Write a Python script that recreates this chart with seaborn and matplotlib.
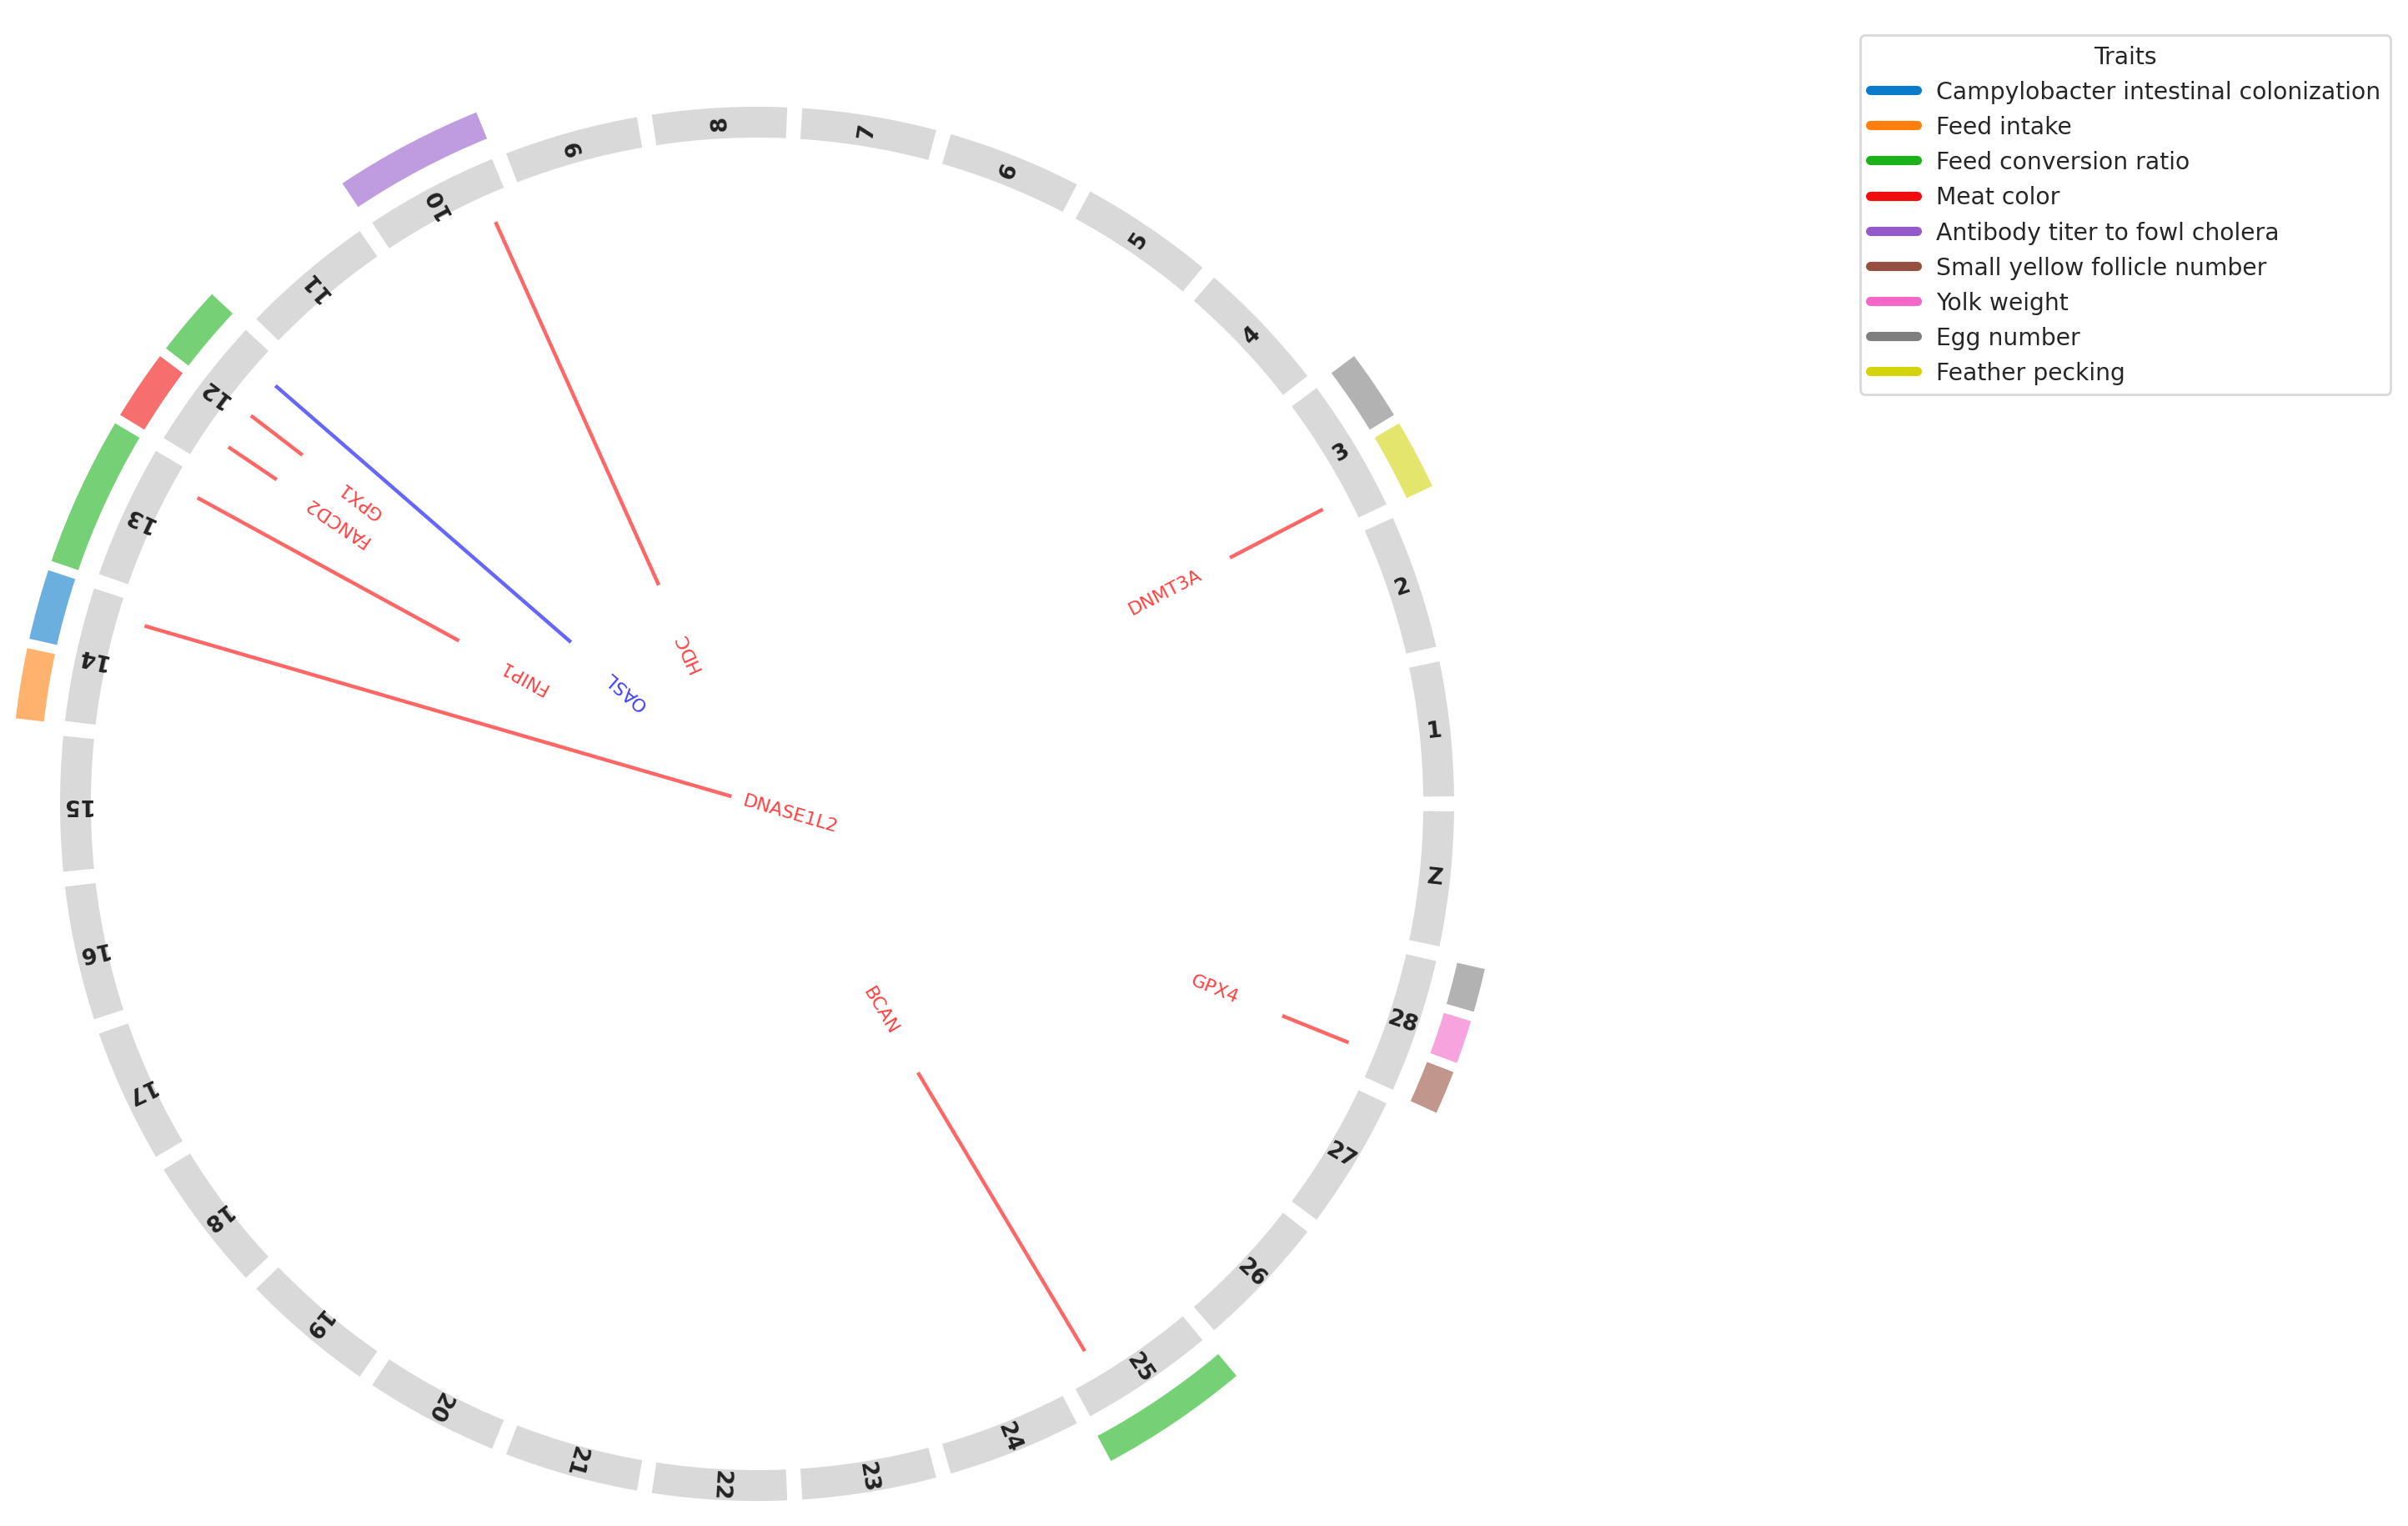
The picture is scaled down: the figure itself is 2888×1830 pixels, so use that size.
import numpy as np
import colorsys
import matplotlib
matplotlib.use("Agg")
import matplotlib.pyplot as plt
import seaborn as sns
from matplotlib.lines import Line2D
from collections import defaultdict

sns.set_theme(style="white")
plt.rcParams['font.family'] = ['DejaVu Sans']

# ---------------- data ----------------
chromosomes = [str(i) for i in range(1, 29)] + ['Z']

traits = ['Campylobacter intestinal colonization', 'Feed intake', 'Feed conversion ratio',
          'Meat color', 'Antibody titer to fowl cholera', 'Small yellow follicle number',
          'Yolk weight', 'Egg number', 'Feather pecking']

# QTL blocks: chromosome and trait (listed in angular order within a chromosome)
qtl_chrom = ['3', '3', '10', '12', '12', '13', '14', '14', '25', '28', '28', '28']
qtl_trait = ['Feather pecking', 'Egg number', 'Antibody titer to fowl cholera',
             'Feed conversion ratio', 'Meat color', 'Feed conversion ratio',
             'Campylobacter intestinal colonization', 'Feed intake',
             'Feed conversion ratio', 'Small yellow follicle number', 'Yolk weight',
             'Egg number']

# candidate genes: chromosome, relative position within chromosome, link depth, colour
genes = ['DNMT3A', 'HDC', 'OASL', 'GPX1', 'FANCD2', 'FNIP1', 'DNASE1L2', 'BCAN', 'GPX4']
gene_chrom = ['3', '10', '12', '12', '12', '13', '14', '25', '28']
gene_pos = [0.215, 0.20, 0.20, 0.48, 0.76, 0.19, 0.195, 0.24, 0.23]
gene_depth = [0.80, 0.36, 0.37, 0.86, 0.87, 0.51, 0.04, 0.47, 0.85]
gene_color = ['red', 'red', 'blue', 'red', 'red', 'red', 'red', 'red', 'red']

# ---------------- layout ----------------
W, H, DPI = 2888, 1831, 200
fig = plt.figure(figsize=(W / DPI, H / DPI), dpi=DPI)
cx, cy = 908, 965          # circle centre in pixels (from top-left)
RMAX = 960
ax = fig.add_axes([(cx - RMAX) / W, (H - cy - RMAX) / H, 2 * RMAX / W, 2 * RMAX / H],
                  projection='polar')
ax.set_theta_zero_location('E')
ax.set_theta_direction(1)
ax.set_ylim(0, RMAX)
ax.axis('off')


def boost(c, f=1.3):
    h, l, s = colorsys.rgb_to_hls(*c)
    return colorsys.hls_to_rgb(h, l, min(1.0, s * f))


palette = [boost(c) for c in sns.color_palette('tab10', 10)]
trait_color = {t: palette[i] for i, t in enumerate(traits)}

n = len(chromosomes)
slot = 2 * np.pi / n
chrom_idx = {c: i for i, c in enumerate(chromosomes)}
centers = (np.arange(n) + 0.5) * slot

R_IN, R_W = 799, 37
ax.bar(centers, R_W, width=slot * 0.9, bottom=R_IN, color='#d9d9d9',
       edgecolor='none', align='center')
for th, name in zip(centers, chromosomes):
    ax.text(th, R_IN + R_W / 2, name, rotation=np.degrees(th), rotation_mode='anchor',
            ha='center', va='center', fontsize=9.5, fontweight='bold', color='#222222')

# QTL blocks
Q_IN, Q_W = 861, 34
gap = np.radians(0.75)
per_chrom = defaultdict(list)
for c, t in zip(qtl_chrom, qtl_trait):
    per_chrom[c].append(t)
for c, tl in per_chrom.items():
    k = len(tl)
    sub = slot / k
    start = chrom_idx[c] * slot
    for j, t in enumerate(tl):
        ax.bar(start + (j + 0.5) * sub, Q_W, width=sub - gap, bottom=Q_IN,
               color=trait_color[t], alpha=0.6, edgecolor='none', align='center')

# gene links
L_OUT = 765
LABEL_OFF = 87
for g, c, p, d, col in zip(genes, gene_chrom, gene_pos, gene_depth, gene_color):
    th = (chrom_idx[c] + p) * slot
    r_end = d * R_IN
    ax.plot([th, th], [L_OUT, r_end], color=col, alpha=0.6, lw=1.6,
            solid_capstyle='butt')
    rl = r_end - LABEL_OFF
    rot = np.degrees(th)
    tl = th
    if rl < 0:
        rl = -rl * 0.75
        tl = th + np.pi
        rot = rot + 180
    ax.text(tl, rl, g, rotation=rot, rotation_mode='anchor', ha='center', va='center',
            fontsize=8, color=col, alpha=0.75)

handles = [Line2D([0], [0], color=trait_color[t], lw=4) for t in traits]
leg = fig.legend(handles, traits, title='Traits', loc='upper right',
                 bbox_to_anchor=(0.9975, 0.984), fontsize=10.2, title_fontsize=10.2,
                 frameon=True)
leg.get_frame().set_edgecolor('#d0d0d0')

fig.savefig('out.png', dpi=DPI)
